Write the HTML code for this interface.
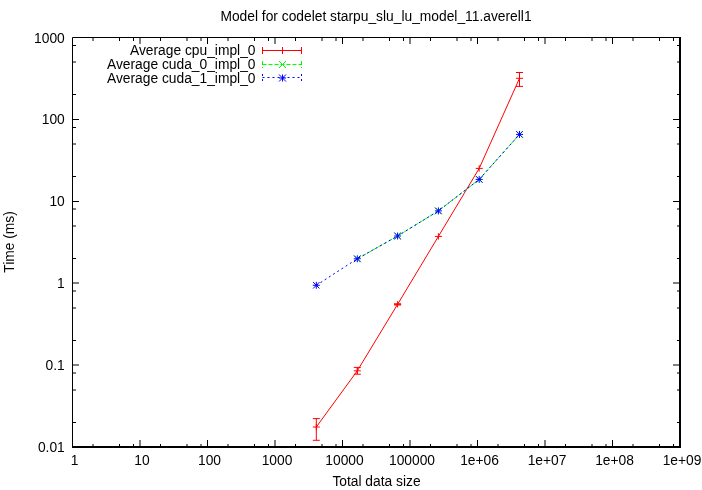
<!DOCTYPE html>
<html><head><meta charset="utf-8"><style>html,body{margin:0;padding:0;background:#fff}svg{display:block;will-change:transform}</style></head>
<body><svg width="702" height="490" viewBox="0 0 702 490">
<rect width="702" height="490" fill="#fff"/>
<path d="M72.5 37.5 H680 M72.5 37.5 V447" stroke="#000" stroke-width="1" fill="none"/>
<rect x="72" y="446" width="609" height="2" fill="#000"/>
<rect x="679" y="37" width="2" height="411" fill="#000"/>
<path d="M93.0 38 v3 M93.0 446 v-2 M119.5 38 v3 M119.5 446 v-2 M133.5 38 v3 M133.5 446 v-2 M140.0 38 v6 M140.0 446 v-6 M160.5 38 v3 M160.5 446 v-2 M187.0 38 v3 M187.0 446 v-2 M201.0 38 v3 M201.0 446 v-2 M207.5 38 v6 M207.5 446 v-6 M228.0 38 v3 M228.0 446 v-2 M254.5 38 v3 M254.5 446 v-2 M268.5 38 v3 M268.5 446 v-2 M275.0 38 v6 M275.0 446 v-6 M295.5 38 v3 M295.5 446 v-2 M322.0 38 v3 M322.0 446 v-2 M336.0 38 v3 M336.0 446 v-2 M342.5 38 v6 M342.5 446 v-6 M363.0 38 v3 M363.0 446 v-2 M389.5 38 v3 M389.5 446 v-2 M403.5 38 v3 M403.5 446 v-2 M410.0 38 v6 M410.0 446 v-6 M430.5 38 v3 M430.5 446 v-2 M457.0 38 v3 M457.0 446 v-2 M471.0 38 v3 M471.0 446 v-2 M477.5 38 v6 M477.5 446 v-6 M498.0 38 v3 M498.0 446 v-2 M524.5 38 v3 M524.5 446 v-2 M538.5 38 v3 M538.5 446 v-2 M545.0 38 v6 M545.0 446 v-6 M565.5 38 v3 M565.5 446 v-2 M592.0 38 v3 M592.0 446 v-2 M606.0 38 v3 M606.0 446 v-2 M612.5 38 v6 M612.5 446 v-6 M633.0 38 v3 M633.0 446 v-2 M659.5 38 v3 M659.5 446 v-2 M673.5 38 v3 M673.5 446 v-2 M73 45.5 h3 M679 45.5 h-2 M73 62.0 h3 M679 62.0 h-2 M73 94.5 h3 M679 94.5 h-2 M73 119.5 h6 M679 119.5 h-6 M73 127.5 h3 M679 127.5 h-2 M73 144.0 h3 M679 144.0 h-2 M73 176.5 h3 M679 176.5 h-2 M73 201.5 h6 M679 201.5 h-6 M73 209.0 h3 M679 209.0 h-2 M73 226.0 h3 M679 226.0 h-2 M73 258.5 h3 M679 258.5 h-2 M73 283.0 h6 M679 283.0 h-6 M73 291.0 h3 M679 291.0 h-2 M73 308.0 h3 M679 308.0 h-2 M73 340.5 h3 M679 340.5 h-2 M73 365.0 h6 M679 365.0 h-6 M73 373.0 h3 M679 373.0 h-2 M73 390.0 h3 M679 390.0 h-2 M73 422.5 h3 M679 422.5 h-2" stroke="#000" stroke-width="1" fill="none"/>
<g font-family="Liberation Sans" font-size="13.8" fill="#000"><text x="74.50" y="465" text-anchor="middle">1</text><text x="142.00" y="465" text-anchor="middle">10</text><text x="209.50" y="465" text-anchor="middle">100</text><text x="277.00" y="465" text-anchor="middle">1000</text><text x="344.50" y="465" text-anchor="middle">10000</text><text x="412.00" y="465" text-anchor="middle">100000</text><text x="479.50" y="465" text-anchor="middle">1e+06</text><text x="547.00" y="465" text-anchor="middle">1e+07</text><text x="614.50" y="465" text-anchor="middle">1e+08</text><text x="682.00" y="465" text-anchor="middle">1e+09</text><text x="64.8" y="42.50" text-anchor="end">1000</text><text x="64.8" y="124.40" text-anchor="end">100</text><text x="64.8" y="206.30" text-anchor="end">10</text><text x="64.8" y="288.20" text-anchor="end">1</text><text x="64.8" y="370.10" text-anchor="end">0.1</text><text x="64.8" y="452.00" text-anchor="end">0.01</text><text x="376" y="21" text-anchor="middle">Model for codelet starpu_slu_lu_model_11.averell1</text><text x="376.5" y="486" text-anchor="middle">Total data size</text><text transform="translate(13.5,242) rotate(-90)" text-anchor="middle">Time (ms)</text><text x="255.5" y="55" text-anchor="end">Average cpu_impl_0</text><text x="255.5" y="69" text-anchor="end">Average cuda_0_impl_0</text><text x="255.5" y="82.5" text-anchor="end">Average cuda_1_impl_0</text></g>
<path d="M262.5 50.5 H301.5 M262.5 47 V54 M301.5 47 V54 M282.5 47 V54 M279 50.5 H286" stroke="#ff0000" stroke-width="1" fill="none"/>
<path d="M262.5 64.5 H301.5 M262.5 61 V68 M301.5 61 V68" stroke="#00ff00" stroke-width="1" fill="none" stroke-dasharray="4,2"/>
<path d="M279 61 l7 7 M279 68 l7 -7" stroke="#00ff00" stroke-width="1" fill="none"/>
<path d="M262.5 77.5 H301.5 M262.5 74 V81 M301.5 74 V81" stroke="#0000ff" stroke-width="1" fill="none" stroke-dasharray="2,3"/>
<path d="M279 74.5 l7 7 M279 81.5 l7 -7 M279 78 h7 M282.5 74.5 v7" stroke="#0000ff" stroke-width="1" fill="none"/>
<polyline points="316.3,427 357.3,370.8 397.6,304.3 438.4,236.4 479.2,168.4 519.5,78.3" stroke="#ff0000" fill="none" stroke-width="1"/>
<path d="M316.3 418.6 V440.3 M312.8 418.6 h7 M312.8 440.3 h7 M312.8 427 h7 M316.3 423.8 v6.4 M357.3 367.4 V374.2 M353.8 367.4 h7 M353.8 374.2 h7 M353.8 370.8 h7 M357.3 367.6 v6.4 M397.6 303.8 V305.0 M394.1 303.8 h7 M394.1 305.0 h7 M394.1 304.3 h7 M397.6 301.1 v6.4 M434.9 236.4 h7 M438.4 233.20000000000002 v6.4 M475.7 168.4 h7 M479.2 165.20000000000002 v6.4 M519.5 72.5 V86.4 M516.0 72.5 h7 M516.0 86.4 h7 M516.0 78.3 h7 M519.5 75.1 v6.4" stroke="#ff0000" fill="none" stroke-width="1"/>
<polyline points="357.3,258.8 397.6,236 438.4,210.9 479.2,179.4 519.5,134.4" stroke="#00ff00" fill="none" stroke-width="1" stroke-dasharray="4,2"/>
<path d="M353.8 255.3 l7 7 M353.8 262.3 l7 -7 M394.1 232.5 l7 7 M394.1 239.5 l7 -7 M434.9 207.4 l7 7 M434.9 214.4 l7 -7 M475.7 175.9 l7 7 M475.7 182.9 l7 -7 M516.0 130.9 l7 7 M516.0 137.9 l7 -7" stroke="#00ff00" fill="none" stroke-width="1"/>
<polyline points="316.3,285.3 357.3,258.8 397.6,236 438.4,210.9 479.2,179.4 519.5,134.4" stroke="#0000ff" fill="none" stroke-width="1" stroke-dasharray="2,3"/>
<path d="M313.1 282.1 l6.4 6.4 M313.1 288.5 l6.4 -6.4 M312.8 285.3 h7 M316.3 281.8 v7 M354.1 255.60000000000002 l6.4 6.4 M354.1 262.0 l6.4 -6.4 M353.8 258.8 h7 M357.3 255.3 v7 M394.40000000000003 232.8 l6.4 6.4 M394.40000000000003 239.2 l6.4 -6.4 M394.1 236 h7 M397.6 232.5 v7 M435.2 207.70000000000002 l6.4 6.4 M435.2 214.1 l6.4 -6.4 M434.9 210.9 h7 M438.4 207.4 v7 M476.0 176.20000000000002 l6.4 6.4 M476.0 182.6 l6.4 -6.4 M475.7 179.4 h7 M479.2 175.9 v7 M516.3 131.20000000000002 l6.4 6.4 M516.3 137.6 l6.4 -6.4 M516.0 134.4 h7 M519.5 130.9 v7" stroke="#0000ff" fill="none" stroke-width="1"/>
</svg></body></html>
